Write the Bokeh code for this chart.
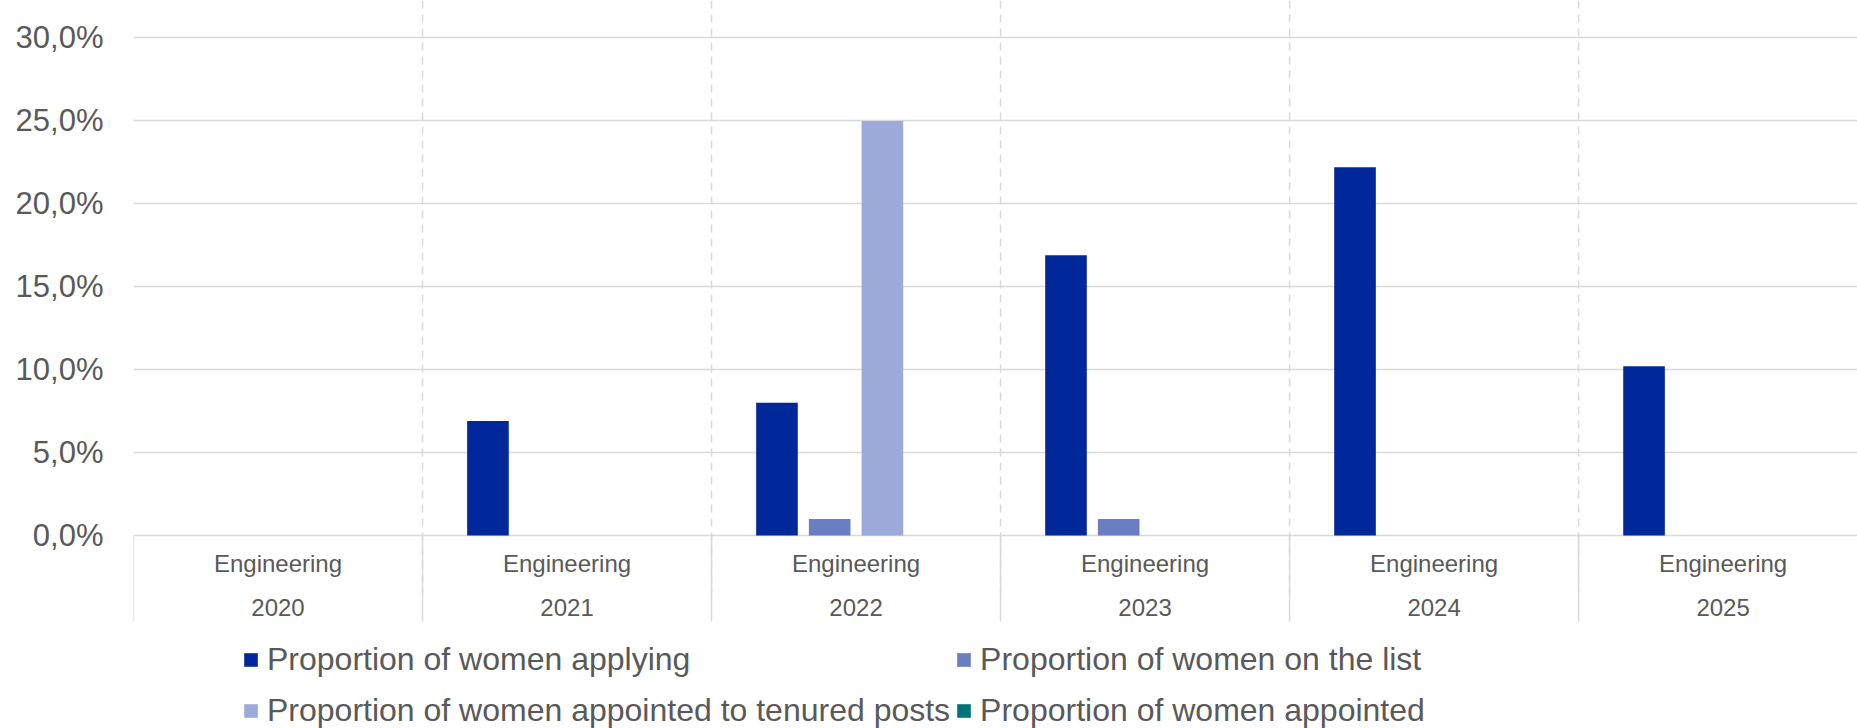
from bokeh.plotting import figure
from bokeh.models import (ColumnDataSource, FixedTicker, Range1d, Legend, LegendItem)
from bokeh.core.properties import value
from bokeh.transform import dodge
from bokeh.embed import file_html
from bokeh.resources import INLINE

# ---------------- data ----------------
field = "Engineering"
years = ["2020", "2021", "2022", "2023", "2024", "2025"]
series_names = [
    "Proportion of women applying",
    "Proportion of women on the list",
    "Proportion of women appointed to tenured posts",
    "Proportion of women appointed",
]
applying = [0.0, 6.9, 8.0, 16.9, 22.2, 10.2]
on_list = [0.0, 0.0, 1.0, 1.0, 0.0, 0.0]
tenured = [0.0, 0.0, 25.0, 0.0, 0.0, 0.0]
appointed = [0.0, 0.0, 0.0, 0.0, 0.0, 0.0]
y_ticks = [0, 5, 10, 15, 20, 25, 30]

# ---------------- styling / layout ----------------
colors = ["#00289A", "#6A7EC2", "#9BAAD8", "#00737A"]
FONT = "Liberation Sans"
TXT = "#595959"
GRID = "#d9d9d9"
bar_width = 0.144
bar_step = 0.1824
Y_TOP = 32.26          # frame top
Y_BOTTOM = -11.64      # frame bottom (room for category labels + legend)
LAB1_Y = -1.69         # "Engineering" row
LAB2_Y = -4.34         # year row
SEP_Y = -5.19          # end of category separators
DASH_Y = -3.5          # end of dashed vertical lines

n = len(years)
pos = [i + 0.5 for i in range(n)]
bounds = list(range(n + 1))
src = ColumnDataSource(dict(pos=pos, applying=applying, on_list=on_list,
                            tenured=tenured, appointed=appointed))
lab_src = ColumnDataSource(dict(pos=pos, field=[field] * n, year=years))

p = figure(frame_width=1724, frame_height=728,
           x_range=Range1d(0, 5.965), y_range=Range1d(Y_BOTTOM, Y_TOP),
           output_backend="svg", toolbar_location=None,
           min_border_left=133, min_border_right=0, min_border_top=0,
           min_border_bottom=0)
p.outline_line_color = None
p.background_fill_color = "white"
p.xaxis.visible = False
p.xgrid.grid_line_color = None

# horizontal grid (incl. baseline at 0)
p.ygrid[0].ticker = FixedTicker(ticks=y_ticks)
p.ygrid[0].grid_line_color = GRID
p.ygrid[0].grid_line_width = 1.5

# dashed vertical lines between categories
p.segment(x0=bounds[1:-1], y0=Y_TOP, x1=bounds[1:-1], y1=DASH_Y,
          line_color=GRID, line_width=1.5, line_dash="8 6")
# solid separators below the baseline
p.segment(x0=bounds, y0=0, x1=bounds, y1=SEP_Y,
          line_color=GRID, line_width=1.5)

cols = ["applying", "on_list", "tenured", "appointed"]
renderers = []
for k, (c, col) in enumerate(zip(cols, colors)):
    off = (k - 1.5) * bar_step
    r = p.vbar(x=dodge("pos", off), top=c, bottom=0, width=bar_width,
               source=src, fill_color=col, line_color=None)
    renderers.append(r)

# category labels
for col_name, yv in (("field", LAB1_Y), ("year", LAB2_Y)):
    p.text(x="pos", y=yv, text=col_name, source=lab_src,
           text_font=value(FONT), text_font_size=value("24px"),
           text_color=TXT, text_align="center", text_baseline="middle")

# y axis
ya = p.yaxis[0]
ya.ticker = FixedTicker(ticks=y_ticks)
ya.major_label_overrides = {t: f"{t:.1f}".replace(".", ",") + "%" for t in y_ticks}
ya.major_label_text_font = FONT
ya.major_label_text_font_size = "31px"
ya.major_label_text_color = TXT
ya.major_tick_line_color = None
ya.minor_tick_line_color = None
ya.major_tick_out = 0
ya.major_tick_in = 0
ya.minor_tick_out = 0
ya.minor_tick_in = 0
ya.axis_line_color = None
ya.major_label_standoff = 30

legend = Legend(items=[LegendItem(label=nm, renderers=[r]) for nm, r in zip(series_names, renderers)],
                orientation="horizontal", ncols=2, location=(109, -5),
                label_text_font=FONT, label_text_font_size="32px",
                label_text_color=TXT, glyph_width=17, glyph_height=17,
                label_standoff=8, spacing=5, label_height=46,
                padding=0, margin=0, border_line_color=None,
                background_fill_alpha=0)
p.add_layout(legend, "center")

open("out.html", "w").write(file_html(p, INLINE))
